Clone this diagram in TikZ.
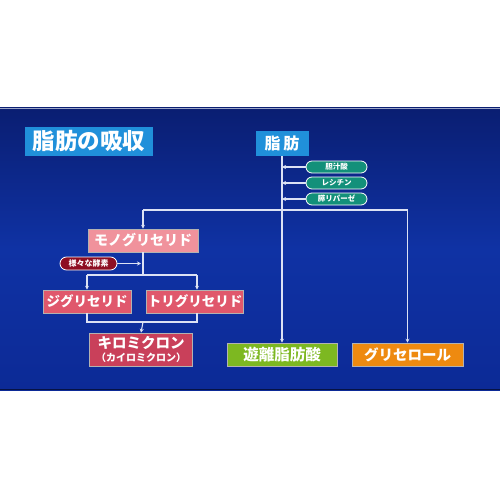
\documentclass[tikz,border=0pt]{standalone}
\usepackage{fontspec}
\newfontfamily\jp{Noto Sans CJK JP}
\usetikzlibrary{arrows.meta}
\definecolor{bgtop}{HTML}{0A1E72}
\definecolor{bgmid}{HTML}{0F32A4}
\definecolor{bgbot}{HTML}{0C2A96}
\definecolor{titleblue}{HTML}{2090DA}
\definecolor{monopink}{HTML}{F0929C}
\definecolor{glyred}{HTML}{E0586C}
\definecolor{chylored}{HTML}{C9405A}
\definecolor{pillgreen}{HTML}{13907A}
\definecolor{enzred}{HTML}{8E0E22}
\definecolor{ffagreen}{HTML}{7DB821}
\definecolor{glyorange}{HTML}{EE8A10}
\definecolor{wire}{HTML}{DCE2F4}
\tikzset{
  box/.style={rectangle,draw=white!70!black,line width=0.6pt,text=white,
    font=\jp\bfseries,inner sep=0pt,align=center},
  pill/.style={rounded rectangle,draw=white,line width=0.8pt,text=white,
    font=\jp\bfseries\fontsize{7.5}{8}\selectfont,inner sep=0pt},
  conn/.style={wire,line width=1.1pt},
  arr/.style={conn,-{Stealth[length=4pt,width=4pt]}}
}
\usetikzlibrary{shapes.misc}
\begin{document}
\begin{tikzpicture}[x=1pt,y=-1pt]
   \useasboundingbox (0,0) rectangle (500,500);
   \fill[white] (0,0) rectangle (500,500);
   \shade[top color=bgtop,bottom color=bgbot,middle color=bgmid] (0,108) rectangle (500,390);
   \draw[white!60!bgtop,line width=0.8pt] (0,108) -- (500,108);
   \draw[bgtop!60!black,line width=1.2pt] (0,389.5) -- (500,389.5);
   % title
   \node[box,fill=titleblue,draw=none,minimum width=128pt,minimum height=29pt,
     font=\jp\bfseries\fontsize{22.5}{24}\selectfont] (title) at (89,141.5) {脂肪の吸収};
   % fat and its helpers
   \node[box,fill=titleblue,draw=none,minimum width=53pt,minimum height=25pt,
     font=\jp\bfseries\fontsize{16}{18}\selectfont] (fat) at (282,143.5) {脂\,肪};
   \node[pill,fill=pillgreen,minimum width=61pt,minimum height=12pt] (bile) at (336.5,167) {胆汁酸};
   \node[pill,fill=pillgreen,minimum width=61pt,minimum height=12pt] (lec) at (336.5,183) {レシチン};
   \node[pill,fill=pillgreen,minimum width=61pt,minimum height=12pt] (lip) at (336.5,199) {膵リパーゼ};
   % left branch
   \node[box,fill=monopink,minimum width=110pt,minimum height=23pt,
     font=\jp\bfseries\fontsize{14}{16}\selectfont] (mono) at (143,240.5) {モノグリセリド};
   \node[pill,fill=enzred,minimum width=57pt,minimum height=13pt,
     font=\jp\bfseries\fontsize{8}{9}\selectfont] (enz) at (88.5,263.5) {様々な酵素};
   \node[box,fill=glyred,minimum width=88pt,minimum height=23pt,
     font=\jp\bfseries\fontsize{13.5}{15}\selectfont] (di) at (87,301.5) {ジグリセリド};
   \node[box,fill=glyred,minimum width=97pt,minimum height=23pt,
     font=\jp\bfseries\fontsize{13.5}{15}\selectfont] (tri) at (195,301.5) {トリグリセリド};
   \node[box,fill=chylored,minimum width=103pt,minimum height=33pt,
     font=\jp\bfseries\fontsize{14.5}{14}\selectfont] (chylo) at (141,349.5)
     {キロミクロン\\[-1pt]{\fontsize{10}{11}\selectfont（カイロミクロン）}};
   % products
   \node[box,fill=ffagreen,minimum width=110pt,minimum height=23pt,
     font=\jp\bfseries\fontsize{15.5}{17}\selectfont] (ffa) at (282,354.5) {遊離脂肪酸};
   \node[box,fill=glyorange,minimum width=111pt,minimum height=23pt,
     font=\jp\bfseries\fontsize{14.5}{16}\selectfont] (gly) at (407.5,354.5) {グリセロール};
   % junctions
   \coordinate (split) at (282,210);
   \coordinate (jl) at (143,210);
   \coordinate (jr) at (407.5,210);
   \coordinate (mfork) at (143,275);
   \coordinate (dfork) at (87,275);
   \coordinate (tfork) at (197,275);
   \coordinate (dlow) at (87,322);
   \coordinate (tlow) at (197,322);
   \coordinate (cjoin) at (143,322);
   % wires
   \draw[arr] (fat.south) -- (ffa.north);
   \draw[arr] (bile.west) -- (bile.west -| fat.south);
   \draw[arr] (lec.west) -- (lec.west -| fat.south);
   \draw[arr] (lip.west) -- (lip.west -| fat.south);
   \draw[conn] (jl) -- (jr);
   \draw[arr] (jl) -- (mono.north);
   \draw[arr] (jr) -- (gly.north);
   \draw[conn] (mono.south) -- (mfork);
   \draw[arr] (enz.east) -- ([xshift=-2pt]enz.east -| mono.south);
   \draw[conn] (dfork) -- (tfork);
   \draw[arr] (dfork) -- (di.north);
   \draw[arr] (tfork) -- (tfork |- tri.north);
   \draw[conn] (di.south) -- (dlow) -- (tlow) -- (tlow |- tri.south);
   \draw[arr] (cjoin) -- (chylo.north);
\end{tikzpicture}
\end{document}
